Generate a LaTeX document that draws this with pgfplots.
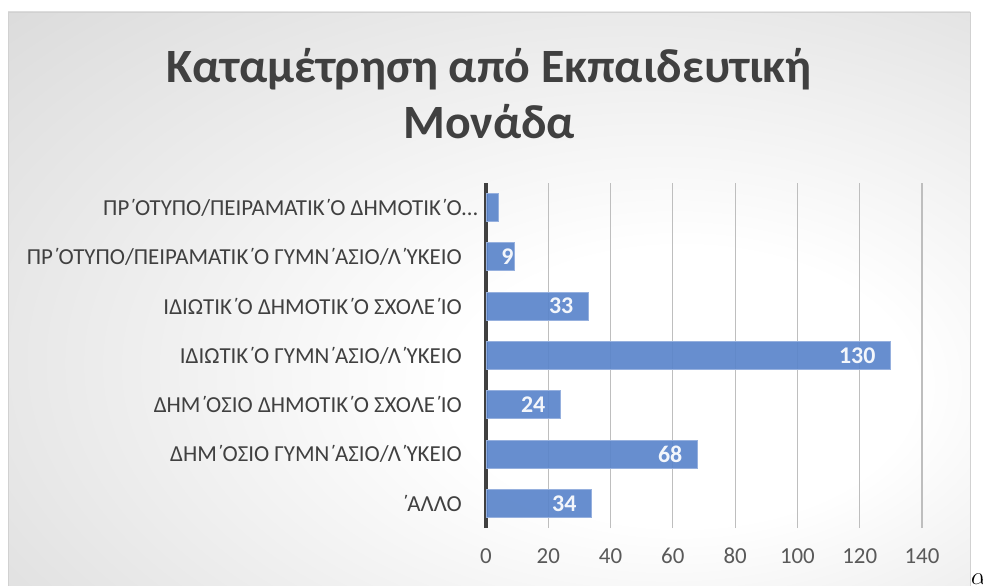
\documentclass[border=0pt]{standalone}
\usepackage{fontspec}
\setmainfont{Carlito}
\usepackage{pgfplots}
\pgfplotsset{compat=1.18}
\newcommand{\T}{΄\kern-0.07em}
\definecolor{cg}{RGB}{216,216,216}
\definecolor{cg2}{RGB}{196,196,196}
\definecolor{barfill}{RGB}{91,133,203}
\definecolor{barline}{RGB}{150,176,222}
\definecolor{titlec}{RGB}{64,64,64}
\definecolor{labc}{RGB}{64,64,64}
\definecolor{tickc}{RGB}{89,89,89}
\definecolor{gridc}{RGB}{190,190,190}
\pgfdeclareradialshading{chartbg}{\pgfpoint{12bp}{-9bp}}{color(0bp)=(white); color(12bp)=(white); color(45bp)=(cg); color(75bp)=(cg2)}
\begin{document}
\begin{tikzpicture}
\useasboundingbox (0bp,0bp) rectangle (983bp,586bp);
\fill[white] (0bp,0bp) rectangle (983bp,586bp);
\shade[shading=chartbg] (8bp,-2bp) rectangle (970bp,574bp);
\draw[black!18, line width=0.8bp] (8bp,-2bp) -- (8bp,574bp) -- (970bp,574bp) -- (970bp,-2bp);
\node[anchor=base, inner sep=0, text=titlec, font=\fontsize{48}{48}\selectfont\bfseries] at (489bp,503bp) {Καταμέτρηση από Εκπαιδευτική};
\node[anchor=base, inner sep=0, text=titlec, font=\fontsize{48}{48}\selectfont\bfseries] at (489bp,447bp) {Μονάδα};
\begin{axis}[
  at={(486bp,58bp)}, anchor=south west,
  scale only axis, width=436bp, height=345bp,
  xmin=0, xmax=140, ymin=-0.5, ymax=6.5,
  xbar, bar width=28bp,
  axis y line*=left, axis x line*=bottom,
  x axis line style={draw=none},
  y axis line style={draw=labc, line width=3bp},
  major tick length=0pt,
  xtick={0,20,...,140},
  ytick={0,...,6},
  yticklabels={\T ΑΛΛΟ, ΔΗΜ\T ΟΣΙΟ ΓΥΜΝ\T ΑΣΙΟ/Λ\T ΥΚΕΙΟ, ΔΗΜ\T ΟΣΙΟ ΔΗΜΟΤΙΚ\T Ο ΣΧΟΛΕ\T ΙΟ, ΙΔΙΩΤΙΚ\T Ο ΓΥΜΝ\T ΑΣΙΟ/Λ\T ΥΚΕΙΟ, ΙΔΙΩΤΙΚ\T Ο ΔΗΜΟΤΙΚ\T Ο ΣΧΟΛΕ\T ΙΟ, ΠΡ\T ΟΤΥΠΟ/ΠΕΙΡΑΜΑΤΙΚ\T Ο ΓΥΜΝ\T ΑΣΙΟ/Λ\T ΥΚΕΙΟ, ΠΡ\T ΟΤΥΠΟ/ΠΕΙΡΑΜΑΤΙΚ\T Ο ΔΗΜΟΤΙΚ\T Ο\rlap{…}},
  /pgf/number format/assume math mode=true,
  xticklabel style={inner sep=0pt, anchor=north, yshift=-20bp, text=tickc, font=\fontsize{23}{23}\selectfont},
  yticklabel style={inner sep=0pt, anchor=east, xshift=-24bp, text=labc, font=\fontsize{23}{23}\selectfont},
  xmajorgrids, grid style={draw=gridc, line width=1.2bp},
  axis on top=false,
  point meta=explicit symbolic,
  visualization depends on=rawx \as \rawx,
  nodes near coords,
  every node near coord/.append style={anchor=east, inner sep=0pt, text=white, font=\fontsize{24}{24}\selectfont\bfseries, xshift={-15*(\rawx>15)}},
]
\addplot[xbar, bar shift=0pt, fill=barfill, fill opacity=0.92, draw=barline, line width=1bp] coordinates {
(34,0) [34]
(68,1) [68]
(24,2) [24]
(130,3) [130]
(33,4) [33]
(9,5) [9]
(4,6) [{}]
};
\end{axis}
\node[anchor=base west, inner sep=0] at (971bp,2bp) {\fontsize{26}{26}\selectfont$\alpha$};
\end{tikzpicture}
\end{document}
